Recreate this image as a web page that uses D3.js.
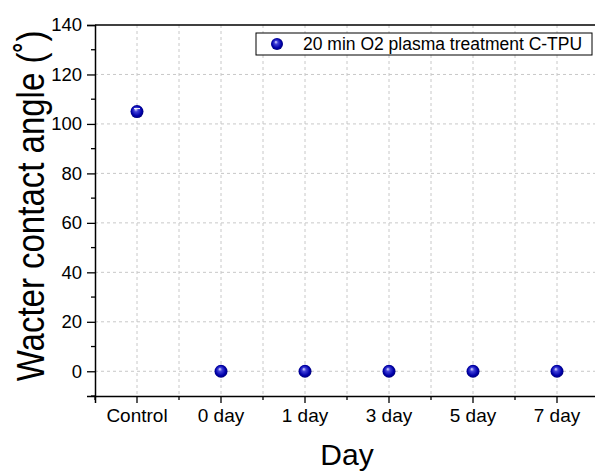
<!DOCTYPE html>
<html>
<head>
<meta charset="utf-8">
<script src="https://cdn.jsdelivr.net/npm/d3@7"></script>
<style>
  body { margin: 0; background: #fff; }
  text { font-family: "Liberation Sans", Arial, sans-serif; fill: #000; }
</style>
</head>
<body>
<div id="chart"></div>
<script>
// data
var categories = ["Control", "0 day", "1 day", "3 day", "5 day", "7 day"];
var angles = [105, 0, 0, 0, 0, 0];
var errors = [1.2, 0, 0, 0, 0, 0];
var yTicks = [0, 20, 40, 60, 80, 100, 120, 140];
var seriesName = "20 min O2 plasma treatment C-TPU";

var width = 595, height = 473;
var margin = { top: 25, right: -4, bottom: 77, left: 95 };
var innerW = width - margin.left - margin.right;
var innerH = height - margin.top - margin.bottom;

var svg = d3.select("#chart").append("svg")
    .attr("width", width)
    .attr("height", height);

var defs = svg.append("defs");
var grad = defs.append("radialGradient")
    .attr("id", "ball")
    .attr("cx", "50%").attr("cy", "50%").attr("r", "55%")
    .attr("fx", "40%").attr("fy", "32%");
grad.append("stop").attr("offset", "0%").attr("stop-color", "#e4e4ff");
grad.append("stop").attr("offset", "28%").attr("stop-color", "#4040d8");
grad.append("stop").attr("offset", "70%").attr("stop-color", "#0000aa");
grad.append("stop").attr("offset", "100%").attr("stop-color", "#00006e");

var bounds = svg.append("g")
    .attr("transform", `translate(${margin.left}, ${margin.top})`);

var x = d3.scaleBand()
    .domain(categories)
    .range([0, innerW]);

var y = d3.scaleLinear()
    .domain([-10, 140])
    .range([innerH, 0]);

var xPos = d => x(d) + x.bandwidth() / 2;

// grid: vertical lines at categories and between them
var vGrid = [];
categories.forEach(function (c) {
    vGrid.push(xPos(c));
    vGrid.push(x(c) + x.bandwidth());
});
bounds.selectAll(".vgrid")
    .data(vGrid).enter()
    .append("line")
    .attr("class", "vgrid")
    .attr("x1", d => d).attr("x2", d => d)
    .attr("y1", 0).attr("y2", innerH)
    .attr("stroke", "#c8c8c8")
    .attr("stroke-width", 1)
    .attr("stroke-dasharray", "3,3");

bounds.selectAll(".hgrid")
    .data(yTicks.filter(d => d < 140)).enter()
    .append("line")
    .attr("class", "hgrid")
    .attr("x1", 0).attr("x2", innerW)
    .attr("y1", d => y(d)).attr("y2", d => y(d))
    .attr("stroke", "#c8c8c8")
    .attr("stroke-width", 1)
    .attr("stroke-dasharray", "3,3");

// top frame line
bounds.append("line")
    .attr("x1", 0).attr("x2", innerW)
    .attr("y1", 0).attr("y2", 0)
    .attr("stroke", "#000").attr("stroke-width", 1.3);

// y axis
var yAxis = d3.axisLeft(y)
    .tickValues(yTicks)
    .tickSize(8)
    .tickPadding(5);
var yAxisG = bounds.append("g").call(yAxis);
yAxisG.select(".domain").attr("stroke-width", 1.5);
yAxisG.selectAll(".tick line").attr("stroke-width", 1.3);
yAxisG.selectAll("text")
    .style("font-family", "Liberation Sans, Arial, sans-serif")
    .style("font-size", "18.5px");

var yMinor = d3.range(-10, 140, 20);
bounds.selectAll(".yminor")
    .data(yMinor).enter()
    .append("line")
    .attr("x1", -4).attr("x2", 0)
    .attr("y1", d => y(d)).attr("y2", d => y(d))
    .attr("stroke", "#000").attr("stroke-width", 1.3);

// x axis
var xAxis = d3.axisBottom(x)
    .tickSize(7)
    .tickPadding(6);
var xAxisG = bounds.append("g")
    .attr("transform", `translate(0, ${innerH})`)
    .call(xAxis);
xAxisG.select(".domain").attr("stroke-width", 1.5);
xAxisG.selectAll(".tick line").attr("stroke-width", 1.3);
xAxisG.selectAll("text")
    .style("font-family", "Liberation Sans, Arial, sans-serif")
    .style("font-size", "19px");

var xMinor = [0].concat(categories.map(c => x(c) + x.bandwidth()));
bounds.selectAll(".xminor")
    .data(xMinor).enter()
    .append("line")
    .attr("x1", d => d).attr("x2", d => d)
    .attr("y1", innerH).attr("y2", innerH + 4)
    .attr("stroke", "#000").attr("stroke-width", 1.3);

// axis titles
svg.append("text")
    .attr("x", 347)
    .attr("y", 465)
    .attr("text-anchor", "middle")
    .style("font-size", "30px")
    .text("Day");

svg.append("text")
    .attr("transform", "translate(44, 206) rotate(-90) scale(1, 1.15)")
    .attr("text-anchor", "middle")
    .style("font-size", "33px")
    .text("Wacter contact angle (˚)");

// points
var data = categories.map((c, i) => ({ cat: c, val: angles[i], err: errors[i] }));

bounds.selectAll(".pt")
    .data(data).enter()
    .append("circle")
    .attr("class", "pt")
    .attr("cx", d => xPos(d.cat))
    .attr("cy", d => y(d.val))
    .attr("r", 6.5)
    .attr("fill", "url(#ball)");

bounds.selectAll(".err")
    .data(data.filter(d => d.err > 0)).enter()
    .append("line")
    .attr("class", "err")
    .attr("x1", d => xPos(d.cat) - 3).attr("x2", d => xPos(d.cat) + 3)
    .attr("y1", d => y(d.val + d.err)).attr("y2", d => y(d.val + d.err))
    .attr("stroke", "#ffffff").attr("stroke-width", 1);

// legend
var legend = svg.append("g").attr("transform", "translate(256, 33)");
legend.append("rect")
    .attr("width", 336).attr("height", 22)
    .attr("fill", "#fff")
    .attr("stroke", "#000").attr("stroke-width", 1);
legend.append("circle")
    .attr("cx", 21).attr("cy", 11).attr("r", 6)
    .attr("fill", "url(#ball)");
legend.append("text")
    .attr("x", 47).attr("y", 16.5)
    .style("font-size", "17.5px")
    .text(seriesName);
</script>
</body>
</html>
